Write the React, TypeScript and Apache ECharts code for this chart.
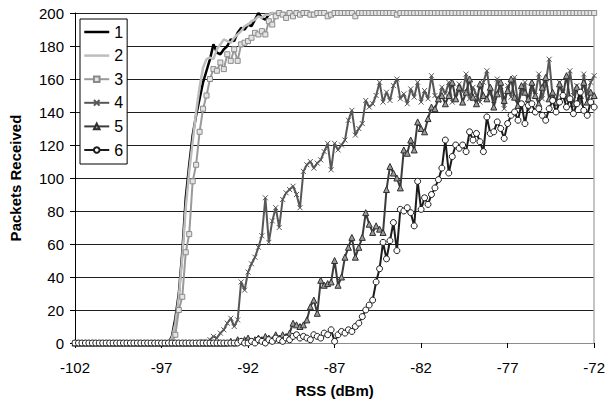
import React, { useEffect, useRef } from "react";
import * as echarts from "echarts";

// RSS grid (dBm): first sample and spacing of the measured points
const RSS_START = -102;
const RSS_END = -72;
const RSS_STEP = 0.2;
const X_TICKS = [-102, -97, -92, -87, -82, -77, -72];
const Y_MIN = 0;
const Y_MAX = 200;
const Y_STEP = 20;

const SERIES_NAMES = ["1", "2", "3", "4", "5", "6"];

// Packets received per RSS sample (151 samples, -102 .. -72 dBm)
const S1 = [
  0, 0, 0, 0, 0, 0, 0, 0, 0, 0,
  0, 0, 0, 0, 0, 0, 0, 0, 0, 0,
  0, 0, 0, 0, 0, 0, 0, 0, 4, 15,
  30, 55, 88, 108, 126, 138, 148, 158, 165, 172,
  181, 176, 175, 178, 180, 184, 183, 188, 191, 190,
  193, 192, 196, 200, 197, 196, 199, 200, 200, 200,
  200, 200, 200, 200, 200, 200, 200, 200, 200, 200,
  200, 200, 200, 200, 200, 200, 200, 200, 200, 200,
  200, 200, 200, 200, 200, 200, 200, 200, 200, 200,
  200, 200, 200, 200, 200, 200, 200, 200, 200, 200,
  200, 200, 200, 200, 200, 200, 200, 200, 200, 200,
  200, 200, 200, 200, 200, 200, 200, 200, 200, 200,
  200, 200, 200, 200, 200, 200, 200, 200, 200, 200,
  200, 200, 200, 200, 200, 200, 200, 200, 200, 200,
  200, 200, 200, 200, 200, 200, 200, 200, 200, 200,
  200,
];

const S2 = [
  0, 0, 0, 0, 0, 0, 0, 0, 0, 0,
  0, 0, 0, 0, 0, 0, 0, 0, 0, 0,
  0, 0, 0, 0, 0, 0, 0, 0, 3, 12,
  28, 52, 82, 104, 122, 140, 155, 167, 172, 173,
  172, 178, 181, 184, 183, 182, 185, 187, 189, 192,
  193, 195, 196, 198, 197, 199, 199, 200, 200, 200,
  200, 200, 200, 200, 200, 200, 200, 200, 200, 200,
  200, 200, 200, 200, 200, 200, 200, 200, 200, 200,
  200, 200, 200, 200, 200, 200, 200, 200, 200, 200,
  200, 200, 200, 200, 200, 200, 200, 200, 200, 200,
  200, 200, 200, 200, 200, 200, 200, 200, 200, 200,
  200, 200, 200, 200, 200, 200, 200, 200, 200, 200,
  200, 200, 200, 200, 200, 200, 200, 200, 200, 200,
  200, 200, 200, 200, 200, 200, 200, 200, 200, 200,
  200, 200, 200, 200, 200, 200, 200, 200, 200, 200,
  200,
];

const S3 = [
  0, 0, 0, 0, 0, 0, 0, 0, 0, 0,
  0, 0, 0, 0, 0, 0, 0, 0, 0, 0,
  0, 0, 0, 0, 0, 0, 0, 0, 0, 5,
  20, 28, 55, 66, 98, 108, 128, 142, 150, 160,
  166, 165, 170, 166, 175, 171, 178, 171, 181, 182,
  183, 185, 188, 187, 189, 187, 195, 193, 198, 200,
  199, 197, 200, 198, 200, 199, 200, 200, 199, 199,
  200, 200, 200, 198, 199, 200, 200, 200, 200, 200,
  200, 198, 200, 200, 200, 200, 200, 200, 200, 200,
  200, 200, 200, 199, 200, 200, 200, 200, 200, 200,
  200, 200, 200, 200, 200, 200, 200, 200, 200, 200,
  200, 200, 200, 200, 200, 200, 200, 200, 200, 200,
  200, 200, 200, 200, 200, 200, 200, 200, 200, 200,
  200, 200, 200, 200, 200, 200, 200, 200, 200, 200,
  200, 200, 200, 200, 200, 200, 200, 200, 200, 200,
  200,
];

const S4 = [
  0, 0, 0, 0, 0, 0, 0, 0, 0, 0,
  0, 0, 0, 0, 0, 0, 0, 0, 0, 0,
  0, 0, 0, 0, 0, 0, 0, 0, 0, 0,
  0, 0, 0, 0, 0, 0, 0, 1, 0, 2,
  4, 3, 6, 8, 12, 15, 10, 14, 37, 32,
  43, 48, 52, 58, 65, 88, 61, 74, 82, 70,
  87, 91, 93, 95, 90, 82, 104, 108, 110, 106,
  109, 111, 116, 121, 105, 121, 117, 120, 123, 135,
  141, 126, 130, 133, 147, 143, 145, 150, 158, 146,
  152, 147, 156, 160, 148, 151, 145, 154, 149, 158,
  146, 153, 148, 162, 150, 147, 155, 151, 158, 146,
  149, 157, 152, 163, 148, 155, 150, 146, 158, 165,
  151, 147, 160, 153, 142, 156, 149, 161, 145, 152,
  158, 141, 155, 150, 163, 148, 157, 172, 149, 144,
  158, 152, 147, 165, 150, 156, 145, 163, 151, 158,
  162,
];

const S5 = [
  0, 0, 0, 0, 0, 0, 0, 0, 0, 0,
  0, 0, 0, 0, 0, 0, 0, 0, 0, 0,
  0, 0, 0, 0, 0, 0, 0, 0, 0, 0,
  0, 0, 0, 0, 0, 0, 0, 0, 0, 0,
  0, 0, 0, 0, 0, 1, 0, 2, 1, 2,
  3, 1, 2, 3, 2, 4, 3, 2, 5, 3,
  5, 4, 6, 12, 11, 10, 11, 14, 22, 26,
  18, 38, 35, 36, 37, 50, 35, 40, 52, 58,
  64, 52, 58, 64, 79, 72, 67, 71, 69, 67,
  93, 107, 103, 100, 94, 117, 115, 123, 117, 134,
  130, 128, 136, 143, 142, 148, 150, 145, 150, 158,
  148, 155, 146, 152, 160, 149, 145, 157, 150, 148,
  155, 143, 151, 158, 147, 153, 160, 149, 144, 156,
  152, 148, 158, 150, 145, 155, 161, 148, 152, 146,
  157, 150, 162, 148, 145, 155, 150, 158, 146, 152,
  150,
];

const S6 = [
  0, 0, 0, 0, 0, 0, 0, 0, 0, 0,
  0, 0, 0, 0, 0, 0, 0, 0, 0, 0,
  0, 0, 0, 0, 0, 0, 0, 0, 0, 0,
  0, 0, 0, 0, 0, 0, 0, 0, 0, 0,
  0, 0, 0, 0, 0, 0, 0, 0, 1, 0,
  0, 1, 0, 2, 1, 0, 2, 1, 3, 2,
  1, 3, 2, 4, 5, 3, 4, 3, 2, 5,
  4, 3, 6, 5, 8, 1, 5, 7, 6, 8,
  7, 10, 12, 16, 20, 23, 26, 37, 45, 61,
  51, 62, 73, 56, 81, 80, 82, 79, 71, 98,
  81, 88, 84, 90, 94, 99, 106, 123, 103, 113,
  120, 118, 120, 116, 128, 123, 127, 122, 116, 137,
  127, 128, 134, 130, 124, 133, 138, 140, 135, 145,
  133, 144, 145, 140, 142, 138, 135, 142, 147, 140,
  146, 150, 143, 148, 139, 145, 152, 141, 138, 146,
  143,
];

const SERIES_VALUES = [S1, S2, S3, S4, S5, S6];

const FONT = "Liberation Sans, Arial, sans-serif";

function pairs(values: number[]) {
  return values.map((v, i) => [RSS_START + i * RSS_STEP, v]);
}

const STYLES: any[] = [
  { line: "#000000", width: 2.5, symbol: "none" },
  { line: "#bdbdbd", width: 2.5, symbol: "none" },
  { line: "#9a9a9a", width: 2, symbol: "rect", size: 5, fill: "#e4e4e4", border: "#8a8a8a" },
  { line: "#575757", width: 2, symbol: "path://M0 0L10 10M10 0L0 10", size: 5, fill: "#575757", border: "#575757" },
  { line: "#3c3c3c", width: 2, symbol: "triangle", size: 6, fill: "#9a9a9a", border: "#2e2e2e" },
  { line: "#1c1c1c", width: 2, symbol: "circle", size: 6, fill: "#ffffff", border: "#1c1c1c" },
];

export default function App() {
  const ref = useRef<HTMLDivElement>(null);

  useEffect(() => {
    if (!ref.current) return;
    const chart = echarts.init(ref.current, null, { renderer: "svg" });

    const series = SERIES_NAMES.map((name, k) => {
      const st = STYLES[k];
      const hasSym = st.symbol !== "none";
      return {
        name,
        type: "line",
        data: pairs(SERIES_VALUES[k]),
        symbol: hasSym ? st.symbol : "none",
        symbolSize: st.size || 4,
        showSymbol: hasSym,
        showAllSymbol: true,
        lineStyle: { color: st.line, width: st.width },
        itemStyle: hasSym
          ? { color: st.fill, borderColor: st.border, borderWidth: 1 }
          : { color: st.line },
        emphasis: { disabled: true },
        z: 2 + k,
      };
    });

    const legendData = SERIES_NAMES.map((name, k) => {
      const st = STYLES[k];
      if (st.symbol === "none") {
        return { name, itemStyle: { opacity: 0 }, lineStyle: { color: st.line, width: st.width } };
      }
      return { name };
    });

    const option: any = {
      animation: false,
      backgroundColor: "#ffffff",
      grid: { left: 74, right: 12, top: 13, bottom: 65 },
      legend: {
        orient: "vertical",
        left: 80,
        top: 19,
        itemWidth: 25,
        itemHeight: 7,
        itemGap: 7.6,
        padding: [5, 4, 6, 3],
        backgroundColor: "#ffffff",
        borderColor: "#000000",
        borderWidth: 1,
        borderRadius: 0,
        selectedMode: false,
        textStyle: { fontFamily: FONT, fontSize: 16, color: "#000", lineHeight: 14 },
        data: legendData,
      },
      xAxis: [
        {
          type: "value",
          min: RSS_START,
          max: RSS_END,
          name: "RSS (dBm)",
          nameLocation: "middle",
          nameGap: 40,
          nameTextStyle: { fontFamily: FONT, fontWeight: "bold", fontSize: 15, color: "#000" },
          axisLine: { show: true, onZero: false, lineStyle: { color: "#000", width: 1 } },
          axisTick: { show: true, length: 5, customValues: X_TICKS, lineStyle: { color: "#000" } },
          axisLabel: { customValues: X_TICKS, margin: 17, fontFamily: FONT, fontSize: 15, color: "#000" },
          splitLine: { show: false },
        },
        {
          type: "value",
          position: "top",
          min: RSS_START,
          max: RSS_END,
          axisLine: { show: true, lineStyle: { color: "#8c8c8c", width: 1 } },
          axisTick: { show: false },
          axisLabel: { show: false },
          splitLine: { show: false },
        },
      ],
      yAxis: [
        {
          type: "value",
          min: Y_MIN,
          max: Y_MAX,
          interval: Y_STEP,
          name: "Packets Received",
          nameLocation: "middle",
          nameGap: 52,
          nameTextStyle: { fontFamily: FONT, fontWeight: "bold", fontSize: 15, color: "#000" },
          axisLine: { show: true, lineStyle: { color: "#000", width: 1 } },
          axisTick: { show: true, length: 5, lineStyle: { color: "#000" } },
          axisLabel: { margin: 11, fontFamily: FONT, fontSize: 15, color: "#000" },
          splitLine: { show: true, lineStyle: { color: "#1e1e1e", width: 1 } },
        },
        {
          type: "value",
          position: "right",
          min: Y_MIN,
          max: Y_MAX,
          axisLine: { show: true, lineStyle: { color: "#b0b0b0", width: 1.5 } },
          axisTick: { show: false },
          axisLabel: { show: false },
          splitLine: { show: false },
        },
      ],
      series,
    };

    chart.setOption(option);
    return () => chart.dispose();
  }, []);

  return (
    <div
      ref={ref}
      style={{ position: "absolute", left: 0, top: 0, width: 608, height: 408, background: "#fff" }}
    />
  );
}
